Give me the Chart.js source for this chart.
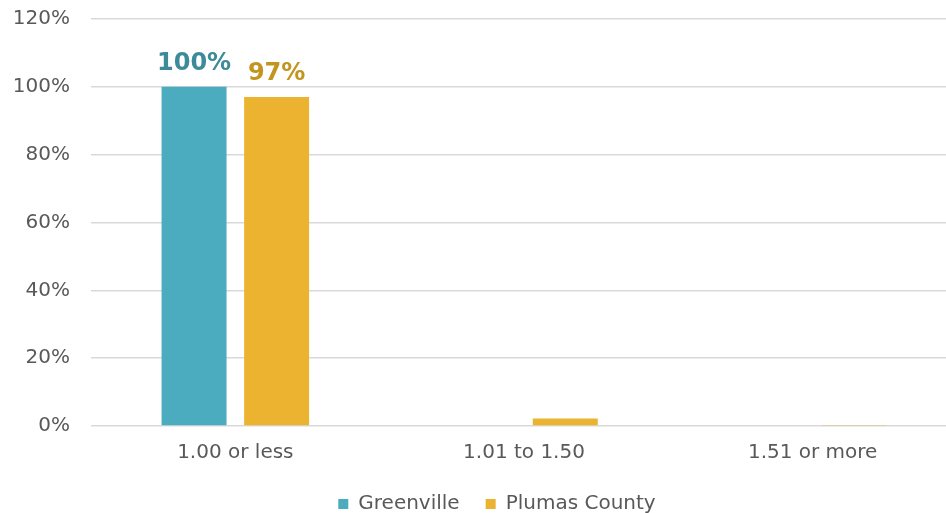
<!DOCTYPE html>
<html>
<head>
<meta charset="utf-8">
<script src="https://cdn.jsdelivr.net/npm/chart.js@4/dist/chart.umd.min.js"></script>
<style>
  html, body { margin: 0; padding: 0; background: #ffffff; overflow: hidden; }
  #wrap { width: 946px; height: 513px; overflow: hidden; }
  canvas { display: block; }
</style>
</head>
<body>
<div id="wrap"><canvas id="chart" width="957" height="524"></canvas></div>
<script>
// Persons per room, share of occupied housing units
const categories = ['1.00 or less', '1.01 to 1.50', '1.51 or more'];
const greenville = [100, 0, 0];
const plumasCounty = [97, 2.2, 0.3];
const yTicks = [0, 20, 40, 60, 80, 100, 120];

const FONT = '"DejaVu Sans", "Liberation Sans", sans-serif';

// Value labels above the leading bars
const valueLabels = {
  id: 'valueLabels',
  afterDatasetsDraw(chart) {
    const ctx = chart.ctx;
    chart.data.datasets.forEach((ds, di) => {
      const meta = chart.getDatasetMeta(di);
      meta.data.forEach((bar, i) => {
        const v = ds.data[i];
        if (v < 10) return;
        ctx.save();
        ctx.font = 'bold 24px ' + FONT;
        ctx.fillStyle = ds.labelColor;
        ctx.textAlign = 'center';
        ctx.textBaseline = 'alphabetic';
        ctx.fillText(Math.round(v) + '%', bar.x, bar.y - 17);
        ctx.restore();
      });
    });
  }
};

// Centre the legend under the plot rather than under the whole canvas
const legendOffset = {
  id: 'legendOffset',
  afterLayout(chart) {
    const lg = chart.legend;
    if (!lg) return;
    lg.left += 12;
    lg.right += 12;
  }
};

new Chart(document.getElementById('chart'), {
  type: 'bar',
  data: {
    labels: categories,
    datasets: [
      {
        label: 'Greenville',
        data: greenville,
        backgroundColor: '#4BACBF',
        labelColor: '#3D8B9A',
        categoryPercentage: 0.572,
        barPercentage: 0.787
      },
      {
        label: 'Plumas County',
        data: plumasCounty,
        backgroundColor: '#EBB32F',
        labelColor: '#C3951F',
        categoryPercentage: 0.572,
        barPercentage: 0.787
      }
    ]
  },
  options: {
    responsive: false,
    animation: false,
    layout: { padding: { top: 19, left: 13, right: 0, bottom: 0 } },
    plugins: {
      legend: {
        position: 'bottom',
        labels: {
          font: { family: FONT, size: 20 },
          color: '#595959',
          boxWidth: 10,
          boxHeight: 10,
          padding: 26
        }
      },
      tooltip: { enabled: false }
    },
    scales: {
      x: {
        grid: { display: false, drawTicks: false },
        border: { display: false },
        afterFit(axis) { axis.height -= 12; },
        ticks: {
          font: { family: FONT, size: 20 },
          color: '#595959',
          padding: 15
        }
      },
      y: {
        min: 0,
        max: 120,
        afterBuildTicks(axis) { axis.ticks = yTicks.map(v => ({ value: v })); },
        afterFit(axis) {
          axis.width = 78;
          axis.paddingTop = 0;
          axis.paddingBottom = 0;
        },
        grid: { color: '#D9D9D9', lineWidth: 1.5, drawTicks: false },
        border: { display: false },
        ticks: {
          font: { family: FONT, size: 20 },
          color: '#595959',
          padding: 21,
          callback: v => v + '%'
        }
      }
    }
  },
  plugins: [valueLabels, legendOffset]
});
</script>
</body>
</html>
